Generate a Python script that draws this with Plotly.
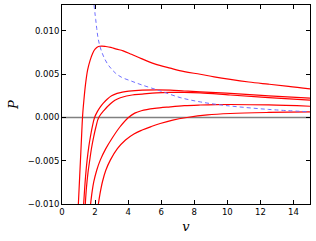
import plotly.graph_objects as go

# Isotherm curves (v, P)
c1_v = [0.99, 1.07, 1.14, 1.2, 1.25, 1.32, 1.42, 1.55, 1.7, 1.85, 2.0, 2.2, 2.4, 2.65, 2.95, 3.3, 3.7, 4.2, 4.8,
        5.6, 6.55, 7.4, 8.36, 9.2, 10.18, 11.3, 12.48, 13.7, 15.0]
c1_p = [-0.010, -0.0068, -0.0040, -0.0015, 0.0003, 0.0019, 0.0038, 0.0055, 0.0066, 0.0074, 0.0079, 0.0082, 0.00825,
        0.0082, 0.0081, 0.0079, 0.0077, 0.0073, 0.0068, 0.0062, 0.0057, 0.0053, 0.0050, 0.0047, 0.0044, 0.0041,
        0.00385, 0.0036, 0.0033]

c2_v = [1.31, 1.36, 1.43, 1.52, 1.62, 1.72, 1.84, 1.97, 2.13, 2.32, 2.5, 2.73, 3.0, 3.33, 3.65, 4.04, 4.85, 5.7,
        6.55, 7.4, 8.36, 10.18, 12.5, 15.0]
c2_p = [-0.010, -0.0085, -0.0067, -0.0049, -0.0034, -0.0022, -0.0010, 0.0, 0.00065, 0.00123, 0.00165, 0.0021,
        0.0025, 0.00278, 0.00293, 0.00304, 0.00316, 0.0032, 0.00316, 0.00306, 0.00296, 0.00278, 0.0025, 0.00223]

c3_v = [1.41, 1.48, 1.57, 1.68, 1.79, 1.9, 2.05, 2.22, 2.53, 2.93, 3.2, 3.53, 3.9, 4.24, 4.85, 5.7, 6.55, 7.4,
        8.36, 10.18, 12.5, 15.0]
c3_p = [-0.010, -0.0081, -0.0064, -0.0049, -0.0035, -0.0024, -0.0011, 0.0, 0.0008, 0.00158, 0.00198, 0.00228,
        0.00248, 0.0026, 0.0027, 0.00284, 0.0029, 0.0029, 0.00284, 0.0026, 0.0023, 0.0020]

c4_v = [1.73, 1.82, 1.92, 2.1, 2.32, 2.65, 3.03, 3.5, 4.02, 4.4, 4.8, 5.6, 6.55, 7.4, 8.36, 9.3, 10.18, 12.5, 15.0]
c4_p = [-0.010, -0.0086, -0.00745, -0.0061, -0.0049, -0.0036, -0.0024, -0.0011, 0.0, 0.0005, 0.00078, 0.00105,
        0.00123, 0.00136, 0.00144, 0.00149, 0.0015, 0.00145, 0.0013]

c5_v = [2.2, 2.3, 2.45, 2.65, 2.93, 3.35, 3.84, 4.35, 4.85, 5.4, 5.94, 6.7, 7.56, 8.8, 10.18, 12.5, 15.0]
c5_p = [-0.010, -0.0088, -0.0074, -0.0061, -0.0049, -0.0036, -0.0026, -0.0019, -0.00145, -0.00105, -0.0007,
        -0.0003, 0.0, 0.0003, 0.00046, 0.00058, 0.00065]

# Dashed blue locus
b_v = [1.94, 1.99, 2.04, 2.1, 2.17, 2.27, 2.4, 2.55, 2.75, 2.95, 3.25, 3.6, 4.2, 4.8, 5.9, 7.15, 8.36, 9.6,
       10.4, 12.5, 15.0]
b_p = [0.013, 0.0121, 0.0113, 0.0103, 0.0093, 0.0084, 0.0076, 0.0069, 0.0062, 0.0057, 0.0051, 0.00465, 0.0042,
       0.00378, 0.0031, 0.0023, 0.0018, 0.00145, 0.00128, 0.00093, 0.00065]

x_ticks = [0, 2, 4, 6, 8, 10, 12, 14]
y_ticks = [-0.010, -0.005, 0.0, 0.005, 0.010]
y_tick_text = ["\u22120.010", "\u22120.005", "0.000", "0.005", "0.010"]

fig = go.Figure()

# zero line
fig.add_trace(go.Scatter(x=[0, 15], y=[0, 0], mode="lines",
                         line=dict(color="#808080", width=1.5), hoverinfo="skip"))

for vx, py in [(c1_v, c1_p), (c2_v, c2_p), (c3_v, c3_p), (c4_v, c4_p), (c5_v, c5_p)]:
    fig.add_trace(go.Scatter(x=vx, y=py, mode="lines",
                             line=dict(color="#ff0000", width=1.2, shape="spline", smoothing=1.0)))

fig.add_trace(go.Scatter(x=b_v, y=b_p, mode="lines",
                         line=dict(color="#7070ff", width=1.0, dash="4px,3px", shape="spline", smoothing=1.0)))

axis_common = dict(showgrid=False, zeroline=False, showline=True, linecolor="black", linewidth=1,
                   mirror="ticks", ticks="inside", ticklen=4, tickwidth=1, tickcolor="black",
                   automargin=False,
                   tickfont=dict(family="DejaVu Sans", size=8.5, color="black"))

fig.update_xaxes(range=[0, 15], tickvals=x_ticks, ticktext=[str(t) for t in x_ticks],
                 title=dict(text="v", font=dict(family="DejaVu Serif", size=13, style="italic", color="black"),
                            standoff=5),
                 **axis_common)
fig.update_yaxes(range=[-0.010, 0.013], tickvals=y_ticks, ticktext=y_tick_text,
                 title=dict(text="P", font=dict(family="DejaVu Serif", size=13, style="italic", color="black"),
                            standoff=6),
                 **axis_common)

fig.update_layout(width=316, height=241, showlegend=False,
                  margin=dict(l=62, r=6, t=5, b=37, autoexpand=False),
                  paper_bgcolor="white", plot_bgcolor="white")

fig.write_html("out.html", config={"displayModeBar": False},
               post_script="document.body.style.margin='0px';")
